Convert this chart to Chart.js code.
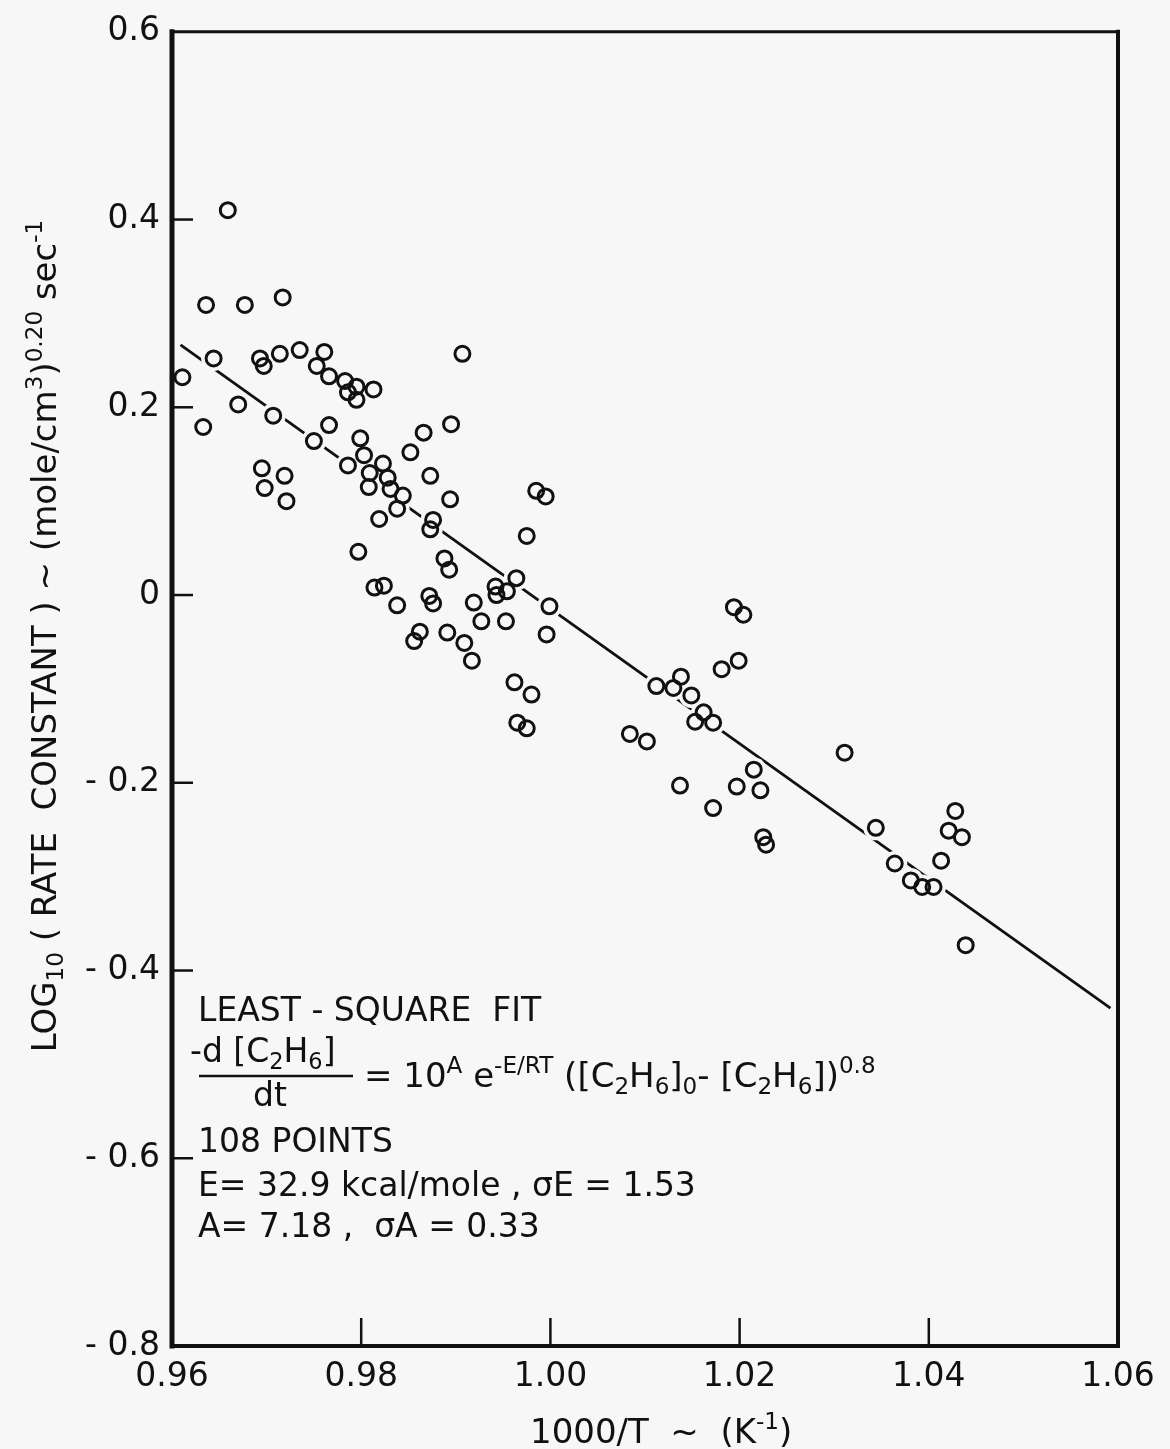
<!DOCTYPE html>
<html>
<head>
<meta charset="utf-8">
<script src="https://cdn.jsdelivr.net/npm/chart.js@4.4.0/dist/chart.umd.min.js"></script>
<style>
  html, body { margin: 0; padding: 0; background: #f7f7f7; }
  #wrap { width: 1170px; height: 1449px; position: relative; }
</style>
</head>
<body>
<div id="wrap"><canvas id="rateChart"></canvas></div>
<script>
// 1000/T values (K^-1)
const xValues = [
    0.9659, 0.9636, 0.9677, 0.9717, 0.9611, 0.9644, 0.9693, 0.9697, 0.9714, 0.9735,
    0.9761, 0.9753, 0.9766, 0.9783, 0.9795, 0.9786, 0.9795, 0.9813, 0.9670, 0.9633,
    0.9707, 0.9766, 0.9750, 0.9799, 0.9866, 0.9852, 0.9786, 0.9803, 0.9823, 0.9809,
    0.9828, 0.9873, 0.9695, 0.9719, 0.9895, 0.9907, 0.9698, 0.9721, 0.9808, 0.9831,
    0.9844, 0.9838, 0.9819, 0.9876, 0.9873, 0.9894, 0.9797, 0.9814, 0.9824, 0.9838,
    0.9872, 0.9876, 0.9888, 0.9893, 0.9862, 0.9856, 0.9891, 0.9985, 0.9995, 0.9975,
    0.9964, 0.9942, 0.9954, 0.9943, 0.9999, 0.9919, 0.9996, 1.0194, 1.0204, 1.0199,
    1.0181, 1.0112, 1.0138, 1.0130, 1.0149, 1.0162, 1.0153, 1.0172, 1.0084, 1.0102,
    1.0215, 1.0197, 1.0222, 1.0137, 1.0172, 1.0225, 1.0228, 1.0311, 1.0344, 1.0364,
    1.0381, 1.0393, 1.0405, 1.0413, 1.0428, 1.0421, 1.0435, 1.0439, 0.9927, 0.9953,
    0.9909, 0.9917, 0.9962, 0.9980, 0.9965, 0.9975
];
// log10 rate constant for each point above
const yValues = [
    0.410, 0.309, 0.309, 0.317, 0.232, 0.252, 0.252, 0.244, 0.257, 0.261,
    0.259, 0.244, 0.233, 0.228, 0.222, 0.216, 0.208, 0.219, 0.203, 0.179,
    0.191, 0.181, 0.164, 0.167, 0.173, 0.152, 0.138, 0.149, 0.140, 0.130,
    0.125, 0.127, 0.135, 0.127, 0.182, 0.257, 0.114, 0.100, 0.115, 0.113,
    0.106, 0.092, 0.081, 0.080, 0.070, 0.102, 0.046, 0.008, 0.010, -0.011,
    -0.001, -0.009, 0.039, 0.027, -0.039, -0.049, -0.040, 0.111, 0.105, 0.063,
    0.018, 0.009, 0.004, 0.000, -0.012, -0.008, -0.042, -0.013, -0.021, -0.070,
    -0.079, -0.097, -0.087, -0.099, -0.107, -0.125, -0.135, -0.136, -0.148, -0.156,
    -0.186, -0.204, -0.208, -0.203, -0.227, -0.258, -0.266, -0.168, -0.248, -0.286,
    -0.304, -0.311, -0.311, -0.283, -0.230, -0.251, -0.258, -0.373, -0.028, -0.028,
    -0.051, -0.070, -0.093, -0.106, -0.136, -0.142
];
// least-square fit line end points
const fitX = [0.9609, 1.0592];
const fitY = [0.2665, -0.440];

const xTicks = [0.96, 0.98, 1.00, 1.02, 1.04, 1.06];
const yTicks = [0.6, 0.4, 0.2, 0, -0.2, -0.4, -0.6, -0.8];

const ink = '#111111';
const paper = '#f7f7f7';
const face = 'DejaVu Sans';

const points = xValues.map((x, i) => ({x: x, y: yValues[i]}));
const fitLine = fitX.map((x, i) => ({x: x, y: fitY[i]}));

// draws text pieces in a row, with subscripts and superscripts
function drawRuns(ctx, x, y, parts, size) {
    parts.forEach(p => {
        const kind = p[1] || 'n';
        const s = kind === 'n' ? size : size * 0.68;
        const dy = kind === 'sub' ? size * 0.22 : (kind === 'sup' ? -size * 0.42 : 0);
        ctx.font = s + 'px "' + face + '"';
        ctx.fillText(p[0], x, y + dy);
        x += ctx.measureText(p[0]).width;
    });
    return x;
}

function runsWidth(ctx, parts, size) {
    let w = 0;
    parts.forEach(p => {
        const kind = p[1] || 'n';
        ctx.font = (kind === 'n' ? size : size * 0.68) + 'px "' + face + '"';
        w += ctx.measureText(p[0]).width;
    });
    return w;
}

function seg(ctx, x1, y1, x2, y2, w) {
    ctx.lineWidth = w;
    ctx.beginPath();
    ctx.moveTo(x1, y1);
    ctx.lineTo(x2, y2);
    ctx.stroke();
}

const artPlugin = {
    id: 'art',
    afterDraw(chart) {
        const ctx = chart.ctx;
        const a = chart.chartArea;
        const xs = chart.scales.x, ys = chart.scales.y;
        ctx.save();
        ctx.strokeStyle = ink;
        ctx.fillStyle = ink;
        ctx.lineCap = 'square';

        // frame
        seg(ctx, a.left, a.top, a.left, a.bottom, 5);
        seg(ctx, a.left, a.bottom, a.right, a.bottom, 4);
        seg(ctx, a.right, a.top, a.right, a.bottom, 4);
        seg(ctx, a.left, a.top, a.right, a.top, 3);
        ctx.lineCap = 'butt';

        // inward tick marks
        xTicks.slice(1, -1).forEach(v => {
            const px = xs.getPixelForValue(v);
            seg(ctx, px, a.bottom, px, a.bottom - 28, 2.5);
        });
        yTicks.slice(1, -1).forEach(v => {
            const py = ys.getPixelForValue(v);
            seg(ctx, a.left, py, a.left + 21, py, 2.5);
        });

        ctx.textBaseline = 'alphabetic';
        ctx.textAlign = 'left';

        // y axis title (rotated)
        const yTitle = [['LOG'], ['10', 'sub'], [' ( RATE  CONSTANT ) ~ (mole/cm'], ['3', 'sup'],
                        [')'], ['0.20', 'sup'], [' sec'], ['-1', 'sup']];
        const ts = 34;
        const tw = runsWidth(ctx, yTitle, ts);
        ctx.save();
        ctx.translate(56, 636);
        ctx.rotate(-Math.PI / 2);
        drawRuns(ctx, -tw / 2, 0, yTitle, ts);
        ctx.restore();

        // x axis title
        drawRuns(ctx, 530, 1443, [['1000/T  ~  (K'], ['-1', 'sup'], [')']], 34);

        // fit annotation
        const fs = 33;
        drawRuns(ctx, 198, 1021, [['LEAST - SQUARE  FIT']], fs);
        drawRuns(ctx, 190, 1062, [['-d [C'], ['2', 'sub'], ['H'], ['6', 'sub'], [']']], fs);
        seg(ctx, 199, 1076, 353, 1076, 2.5);
        drawRuns(ctx, 253, 1106, [['dt']], fs);
        drawRuns(ctx, 364, 1087, [['= 10'], ['A', 'sup'], [' e'], ['-E/RT', 'sup'], [' ([C'], ['2', 'sub'],
                 ['H'], ['6', 'sub'], [']'], ['0', 'sub'], ['- [C'], ['2', 'sub'], ['H'], ['6', 'sub'],
                 ['])'], ['0.8', 'sup']], 34);
        drawRuns(ctx, 198, 1152, [['108 POINTS']], fs);
        drawRuns(ctx, 198, 1196, [['E= 32.9 kcal/mole , \u03C3E = 1.53']], fs);
        drawRuns(ctx, 198, 1237, [['A= 7.18 ,  \u03C3A = 0.33']], fs);

        ctx.restore();
    }
};

const rateChart = new Chart(document.getElementById('rateChart'), {
    type: 'scatter',
    data: {
        datasets: [
            {
                // open circles
                data: points,
                pointRadius: 7.5,
                pointBorderWidth: 3,
                pointBorderColor: ink,
                pointBackgroundColor: 'rgba(0,0,0,0)',
                order: 1
            },
            {
                // paper halo that breaks the fit line round each circle
                data: points,
                pointRadius: 12.5,
                pointBorderWidth: 0,
                pointBackgroundColor: paper,
                order: 2
            },
            {
                type: 'line',
                data: fitLine,
                borderColor: ink,
                borderWidth: 2.8,
                pointRadius: 0,
                fill: false,
                order: 3
            }
        ]
    },
    options: {
        responsive: true,
        maintainAspectRatio: false,
        animation: false,
        events: [],
        layout: { padding: { top: 29, right: 52, left: 0, bottom: 0 } },
        plugins: {
            legend: { display: false },
            tooltip: { enabled: false }
        },
        scales: {
            x: {
                type: 'linear',
                min: 0.96,
                max: 1.06,
                afterBuildTicks: s => { s.ticks = xTicks.map(v => ({value: v})); },
                afterFit: s => { s.height = 103; },
                grid: { display: false, drawTicks: false },
                border: { display: false },
                ticks: {
                    padding: 12,
                    color: ink,
                    font: { family: face, size: 33 },
                    maxRotation: 0,
                    autoSkip: false,
                    callback: v => v.toFixed(2)
                }
            },
            y: {
                type: 'linear',
                min: -0.8,
                max: 0.6,
                afterBuildTicks: s => { s.ticks = yTicks.map(v => ({value: v})); },
                afterFit: s => { s.width = 172; },
                grid: { display: false, drawTicks: false },
                border: { display: false },
                ticks: {
                    padding: 12,
                    color: ink,
                    font: { family: face, size: 33 },
                    autoSkip: false,
                    callback: v => v === 0 ? '0' : (v < 0 ? '- ' + Math.abs(v).toFixed(1) : v.toFixed(1))
                }
            }
        }
    },
    plugins: [artPlugin]
});
</script>
</body>
</html>
